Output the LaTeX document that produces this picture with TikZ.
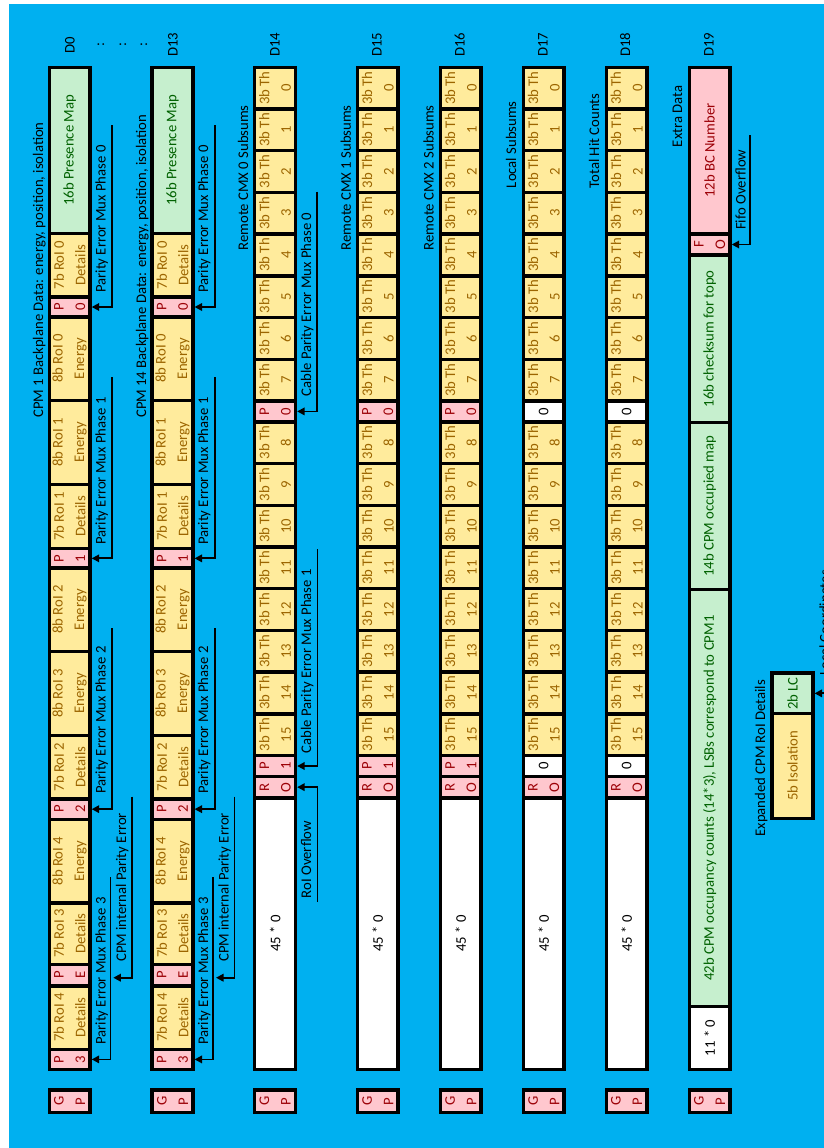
\documentclass[tikz,border=0pt]{standalone}
\usepackage{fontspec}
\setmainfont{Carlito}
\usetikzlibrary{arrows.meta}
\definecolor{bgblue}{HTML}{00B0F0}
\definecolor{goodF}{HTML}{C6EFCE}\definecolor{goodT}{HTML}{006100}
\definecolor{badF}{HTML}{FFC7CE}\definecolor{badT}{HTML}{9C0006}
\definecolor{neuF}{HTML}{FFEB9C}\definecolor{neuT}{HTML}{9C6500}
\tikzset{
  cbox/.style={draw=black, line width=3.4pt, inner sep=0pt, minimum width=40.7pt},
  boxG/.style={fill=goodF}, boxY/.style={fill=neuF}, boxP/.style={fill=badF}, boxW/.style={fill=white},
  ctext/.style={rotate=90, inner sep=0pt, align=center, font=\fontsize{14.7}{21.5}\selectfont},
  txtG/.style={text=goodT}, txtY/.style={text=neuT}, txtP/.style={text=badT}, txtW/.style={text=black},
  ann/.style={line width=1.8pt, -{Triangle[length=7.5pt,width=7.5pt]}},
  lbl/.style={rotate=90, inner sep=0pt, font=\fontsize{14.7}{17}\selectfont, anchor=base west},
}
\newcommand{\mkcell}[6]{%
  \node[cbox, box#5, minimum height={(#4)-(#3)}] (#1) at ({#2},{(#3+#4)/2}) {};
  \node[ctext, txt#5] at (#1.center) {#6};
}
\newcommand{\mkcpm}[2]{%
 \mkcell{#1pm}{#2}{67.3}{233.3}{G}{16b Presence Map}
 \mkcell{#1da}{#2}{233.3}{297}{Y}{7b RoI 0\\Details}
 \mkcell{#1pa}{#2}{297}{317}{P}{P\\0}
 \mkcell{#1ea}{#2}{317}{400.3}{Y}{8b RoI 0\\Energy}
 \mkcell{#1eb}{#2}{400.3}{484.3}{Y}{8b RoI 1\\Energy}
 \mkcell{#1db}{#2}{484.3}{548.7}{Y}{7b RoI 1\\Details}
 \mkcell{#1pb}{#2}{548.7}{568}{P}{P\\1}
 \mkcell{#1ec}{#2}{568}{651.3}{Y}{8b RoI 2\\Energy}
 \mkcell{#1ed}{#2}{651.3}{735.3}{Y}{8b RoI 3\\Energy}
 \mkcell{#1dc}{#2}{735.3}{799}{Y}{7b RoI 2\\Details}
 \mkcell{#1pc}{#2}{799}{819.3}{P}{P\\2}
 \mkcell{#1ee}{#2}{819.3}{903}{Y}{8b RoI 4\\Energy}
 \mkcell{#1dd}{#2}{903}{964.3}{Y}{7b RoI 3\\Details}
 \mkcell{#1pe}{#2}{964.3}{986}{P}{P\\E}
 \mkcell{#1de}{#2}{986}{1049.3}{Y}{7b RoI 4\\Details}
 \mkcell{#1pd}{#2}{1049.3}{1069.5}{P}{P\\3}
 \mkcell{#1gp}{#2}{1090}{1112.5}{P}{G\\P}
}
\newcommand{\mkann}[2]{%
 \coordinate (#1sa) at ({112+#2},125);
 \coordinate (#1sb) at ({112+#2},377);
 \coordinate (#1sc) at ({112+#2},628);
 \coordinate (#1sd) at ({110.5+#2},877);
 \coordinate (#1se) at ({131.7+#2},796.7);
 \coordinate (#1iet) at ({113.3+#2},977.7);
 \draw[ann] (#1sa) |- (#1pa.east);
 \node[lbl] at ({105.5+#2},293) {Parity Error Mux Phase 0};
 \draw[ann] (#1sb) |- (#1pb.east);
 \node[lbl] at ({105.5+#2},545) {Parity Error Mux Phase 1};
 \draw[ann] (#1sc) |- (#1pc.east);
 \node[lbl] at ({105.5+#2},794) {Parity Error Mux Phase 2};
 \draw[ann] (#1se) |- (#1iet);
 \node[lbl] at ({126+#2},962) {CPM internal Parity Error};
 \draw[ann] (#1sd) |- (#1pd.east);
 \node[lbl] at ({105.5+#2},1045) {Parity Error Mux Phase 3};
}
\newcommand{\mksub}[3]{%
 \foreach \k in {0,...,7} {\mkcell{#1t\k}{#2}{67.3+41.7*\k}{67.3+41.7*(\k+1)}{Y}{3b Th\\\k}}
 \ifnum#3=1 \mkcell{#1pa}{#2}{400.9}{421.9}{P}{P\\0}\else\mkcell{#1pa}{#2}{400.9}{421.9}{W}{0}\fi
 \foreach \k in {8,...,15} {\mkcell{#1t\k}{#2}{421.9+41.7*(\k-8)}{421.9+41.7*(\k-7)}{Y}{3b Th\\\k}}
 \ifnum#3=1 \mkcell{#1pb}{#2}{755.5}{776.5}{P}{P\\1}\else\mkcell{#1pb}{#2}{755.5}{776.5}{W}{0}\fi
 \mkcell{#1ro}{#2}{776.5}{797.8}{P}{R\\O}
 \mkcell{#1z}{#2}{797.8}{1069.5}{W}{45 * 0}
 \mkcell{#1gp}{#2}{1090}{1112.5}{P}{G\\P}
}
\begin{document}
\begin{tikzpicture}[x=1pt,y=-1pt]
\useasboundingbox (0,0) rectangle (824,1148);
\fill[white] (0,0) rectangle (824,1148);
\fill[bgblue] (9,4) rectangle (824,1148);
% columns
\mkcpm{a}{69.65}
\mkcpm{b}{172.5}
\mksub{c}{275.1}{1}
\mksub{d}{377.75}{1}
\mksub{e}{460.8}{1}
\mksub{f}{543.75}{0}
\mksub{g}{626.65}{0}
\mkcell{xbc}{709.65}{67.3}{234}{P}{12b BC Number}
\mkcell{xfo}{709.65}{234}{255}{P}{F\\O}
\mkcell{xck}{709.65}{255}{422.7}{G}{16b checksum for topo}
\mkcell{xmap}{709.65}{422.7}{589.7}{G}{14b CPM occupied map}
\mkcell{xocc}{709.65}{589.7}{1006.3}{G}{42b CPM occupancy counts (14*3), LSBs correspond to CPM1}
\mkcell{xz}{709.65}{1006.3}{1069.5}{W}{11 * 0}
\mkcell{xgp}{709.65}{1090}{1112.5}{P}{G\\P}
\mkcell{lc}{792.5}{673}{713.7}{G}{2b LC}
\mkcell{iso}{792.5}{713.7}{818.3}{Y}{5b Isolation}
% annotations
\mkann{a}{0}
\mkann{b}{102.7}
\coordinate (cs0) at (317.3,191.7);
\coordinate (cs1) at (317.5,549.3);
\coordinate (cs2) at (317.5,902);
\draw[ann] (cs0) |- (cpa.east);
\draw[ann] (cs1) |- (cpb.east);
\draw[ann] (cs2) |- (cro.east);
\node[lbl] at (311,396.7) {Cable Parity Error Mux Phase 0};
\node[lbl] at (311,753.3) {Cable Parity Error Mux Phase 1};
\node[lbl] at (311,898.3) {RoI Overflow};
\coordinate (fs) at (750,135);
\draw[ann] (fs) |- (xfo.east);
\node[lbl] at (745.5,230) {Fifo Overflow};
\coordinate (ls) at (836,540);
\draw[ann] (ls) |- (lc.east);
\node[lbl] at (829.5,676) {Local Coordinates};
% titles
\node[lbl] at (43,418) {CPM 1 Backplane Data: energy, position, isolation};
\node[lbl] at (146,418) {CPM 14 Backplane Data: energy, position, isolation};
\node[lbl] at (248,250.7) {Remote CMX 0 Subsums};
\node[lbl] at (350.8,250.7) {Remote CMX 1 Subsums};
\node[lbl] at (433.5,250.7) {Remote CMX 2 Subsums};
\node[lbl] at (516,188.3) {Local Subsums};
\node[lbl] at (599,188.3) {Total Hit Counts};
\node[lbl] at (682,147.3) {Extra Data};
\node[lbl] at (765,836.7) {Expanded CPM RoI Details};
% word labels
\foreach \xx/\tt in {74.5/D0,177.5/D13,279.5/D14,381.5/D15,464.5/D16,547.5/D17,630/D18,713.5/D19,104/:,126/:,147/:}
  {\node[lbl,anchor=base] at (\xx,45) {\tt};}
\end{tikzpicture}
\end{document}
